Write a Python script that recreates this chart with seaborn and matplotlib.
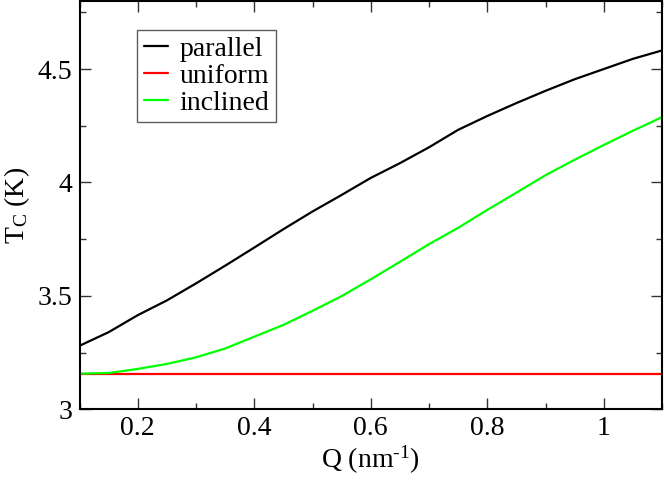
import numpy as np
import pandas as pd
import seaborn as sns
import matplotlib
matplotlib.use("Agg")
import matplotlib.pyplot as plt
from matplotlib.ticker import MultipleLocator, FuncFormatter

# ---- data ----
q_values = [0.10, 0.15, 0.20, 0.25, 0.30, 0.35, 0.40, 0.45, 0.50, 0.55, 0.60,
            0.65, 0.70, 0.75, 0.80, 0.85, 0.90, 0.95, 1.00, 1.05, 1.10]
parallel = [3.280, 3.340, 3.415, 3.480, 3.555, 3.633, 3.713, 3.794, 3.872, 3.945, 4.020,
            4.085, 4.155, 4.232, 4.293, 4.350, 4.404, 4.455, 4.500, 4.545, 4.582]
uniform = [3.157] * len(q_values)
inclined = [3.157, 3.160, 3.178, 3.200, 3.229, 3.268, 3.320, 3.372, 3.434, 3.499, 3.573,
            3.650, 3.728, 3.800, 3.879, 3.955, 4.032, 4.100, 4.165, 4.228, 4.288]
series_names = ["parallel", "uniform", "inclined"]
series_colors = ["#000000", "#ff0000", "#00ff00"]
x_ticks = [0.2, 0.4, 0.6, 0.8, 1.0]
y_ticks = [3.0, 3.5, 4.0, 4.5]

df = pd.DataFrame({
    "Q": q_values * 3,
    "T": parallel + uniform + inclined,
    "series": sum([[n] * len(q_values) for n in series_names], []),
})

sns.set_theme(style="ticks")
plt.rcParams["font.family"] = ["Liberation Serif", "DejaVu Serif"]
plt.rcParams["mathtext.fontset"] = "custom"
plt.rcParams["mathtext.rm"] = "Liberation Serif"
plt.rcParams["mathtext.it"] = "Liberation Serif:italic"
plt.rcParams["mathtext.bf"] = "Liberation Serif:bold"
plt.rcParams["text.color"] = "black"
plt.rcParams["axes.labelcolor"] = "black"
plt.rcParams["xtick.labelcolor"] = "black"
plt.rcParams["ytick.labelcolor"] = "black"

fig = plt.figure(figsize=(6.64, 4.8), dpi=100)
ax = fig.add_axes([79.5 / 664, 1 - 409.3 / 480, (662 - 79.5) / 664, (409.3 - 1) / 480])

sns.lineplot(data=df, x="Q", y="T", hue="series", hue_order=series_names,
             palette=dict(zip(series_names, series_colors)), linewidth=1.6,
             ax=ax, sort=False, estimator=None)

ax.set_xlim(0.1, 1.1)
ax.set_ylim(3.0, 4.8)
ax.set_xticks(x_ticks)
ax.set_yticks(y_ticks)
ax.xaxis.set_minor_locator(MultipleLocator(0.1))
ax.yaxis.set_minor_locator(MultipleLocator(0.25))
fmt = FuncFormatter(lambda v, p: "%g" % v)
ax.xaxis.set_major_formatter(fmt)
ax.yaxis.set_major_formatter(fmt)

ax.tick_params(which="both", direction="in", top=True, right=True,
               labelsize=20, color="#333333", labelcolor="black", width=1.0)
ax.tick_params(which="major", length=8, pad=5)
ax.tick_params(which="minor", length=4.3)
for s in ax.spines.values():
    s.set_linewidth(1.5)
    s.set_color("black")
    s.set_visible(True)

ax.set_xlabel(r"Q (nm$^{\text{-1}}$)", fontsize=20, labelpad=2, color="black")
ax.set_ylabel(r"T$_\mathrm{C}$ (K)", fontsize=20, color="black")
ax.yaxis.set_label_coords(-0.082, 0.5)

leg = ax.legend(loc="upper left", bbox_to_anchor=(0.099, 0.929), borderaxespad=0,
                fontsize=20, frameon=True, fancybox=False, edgecolor="#333333",
                handlelength=0.87, handletextpad=0.42, borderpad=0.24,
                labelspacing=0.05, title=None)
leg.get_frame().set_linewidth(1.0)
for t in leg.get_texts():
    t.set_color("black")

fig.savefig("out.png", dpi=100)
